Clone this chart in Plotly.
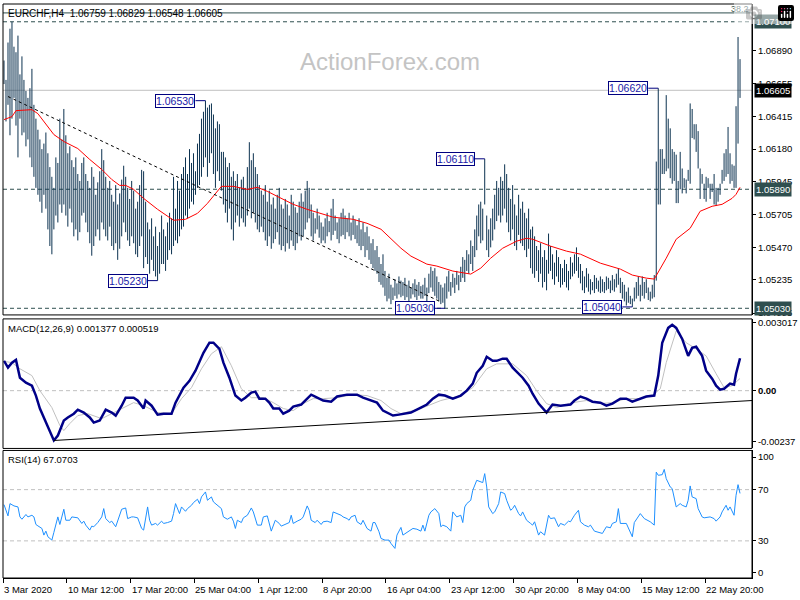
import plotly.graph_objects as go

# ---------------- data ----------------
hi = [
    1.0682, 1.0668, 1.0695, 1.0705, 1.0710, 1.0692, 1.0688, 1.0700, 1.0672, 1.0685,
    1.0668, 1.0660, 1.0655, 1.0662, 1.0676, 1.0650, 1.0640, 1.0632, 1.0625, 1.0618,
    1.0622, 1.0630, 1.0615, 1.0605, 1.0598, 1.0590, 1.0612, 1.0608, 1.0640, 1.0625,
    1.0647, 1.0628, 1.0615, 1.0620, 1.0610, 1.0605, 1.0612, 1.0600, 1.0595, 1.0608,
    1.0612, 1.0600, 1.0595, 1.0590, 1.0605, 1.0598, 1.0585, 1.0594, 1.0602, 1.0618,
    1.0610, 1.0598, 1.0590, 1.0595, 1.0585, 1.0580, 1.0592, 1.0578, 1.0586, 1.0596,
    1.0606, 1.0598, 1.0590, 1.0582, 1.0595, 1.0588, 1.0575, 1.0580, 1.0592, 1.0603,
    1.0602, 1.0580, 1.0565, 1.0560, 1.0568, 1.0555, 1.0562, 1.0548, 1.0558, 1.0570,
    1.0560, 1.0555, 1.0565, 1.0572, 1.0568, 1.0598, 1.0575, 1.0595, 1.0588, 1.0600,
    1.0605, 1.0612, 1.0600, 1.0618, 1.0608, 1.0615, 1.0602, 1.0622, 1.0629, 1.0640,
    1.0645, 1.0653, 1.0648, 1.0650, 1.0651, 1.0643, 1.0633, 1.0638, 1.0636, 1.0616,
    1.0616, 1.0612, 1.0605, 1.0608, 1.0598, 1.0602, 1.0595, 1.0600, 1.0590, 1.0596,
    1.0598, 1.0590, 1.0605, 1.0623, 1.0610, 1.0615, 1.0605, 1.0600, 1.0592, 1.0588,
    1.0585, 1.0592, 1.0580, 1.0588, 1.0578, 1.0583, 1.0575, 1.0585, 1.0590, 1.0578,
    1.0575, 1.0582, 1.0578, 1.0570, 1.0585, 1.0580, 1.0576, 1.0572, 1.0580, 1.0586,
    1.0580, 1.0588, 1.0595, 1.0590, 1.0578, 1.0572, 1.0568, 1.0575, 1.0570, 1.0565,
    1.0562, 1.0568, 1.0572, 1.0566, 1.0575, 1.0582, 1.0570, 1.0565, 1.0568, 1.0572,
    1.0575, 1.0570, 1.0568, 1.0572, 1.0565, 1.0570, 1.0567, 1.0563, 1.0568, 1.0560,
    1.0565, 1.0558, 1.0562, 1.0555, 1.0550, 1.0553, 1.0545, 1.0548, 1.0540, 1.0535,
    1.0542, 1.0530, 1.0525, 1.0528, 1.0520, 1.0518, 1.0524, 1.0521, 1.0526, 1.0523,
    1.0522, 1.0525, 1.0520, 1.0523, 1.0518, 1.0521, 1.0524, 1.0520, 1.0522, 1.0519,
    1.0520, 1.0525, 1.0518, 1.0528, 1.0533, 1.0530, 1.0532, 1.0526, 1.0522, 1.0520,
    1.0518, 1.0521, 1.0526, 1.0530, 1.0522, 1.0528, 1.0525, 1.0530, 1.0527, 1.0533,
    1.0540, 1.0538, 1.0545, 1.0542, 1.0552, 1.0548, 1.0560, 1.0570, 1.0578, 1.0580,
    1.0575, 1.0611, 1.0570, 1.0560, 1.0568, 1.0575, 1.0585, 1.0595, 1.0590, 1.0598,
    1.0595, 1.0607, 1.0600, 1.0590, 1.0582, 1.0592, 1.0578, 1.0570, 1.0585, 1.0575,
    1.0580, 1.0572, 1.0568, 1.0575, 1.0560, 1.0562, 1.0555, 1.0548, 1.0545, 1.0550,
    1.0540, 1.0545, 1.0538, 1.0557, 1.0548, 1.0542, 1.0536, 1.0545, 1.0540, 1.0535,
    1.0532, 1.0538, 1.0535, 1.0530, 1.0540, 1.0536, 1.0542, 1.0547, 1.0540, 1.0535,
    1.0530, 1.0526, 1.0532, 1.0528, 1.0524, 1.0522, 1.0527, 1.0525, 1.0523, 1.0526,
    1.0524, 1.0522, 1.0526, 1.0525, 1.0523, 1.0527, 1.0524, 1.0528, 1.0532, 1.0525,
    1.0522, 1.0520, 1.0515, 1.0518, 1.0512, 1.0510, 1.0518, 1.0522, 1.0526, 1.0520,
    1.0526, 1.0522, 1.0524, 1.0518, 1.0515, 1.0520, 1.0527,
    1.0609, 1.0662, 1.0618, 1.0618, 1.0611, 1.0657, 1.0640, 1.0633, 1.0618, 1.0616,
    1.0614, 1.0595, 1.0616, 1.0604, 1.0597, 1.0596, 1.0603, 1.0651, 1.0647, 1.0636,
    1.0636, 1.0631, 1.0604, 1.0600, 1.0593, 1.0598, 1.0597, 1.0593, 1.0593, 1.0600,
    1.0590, 1.0590, 1.0593, 1.0603, 1.0615, 1.0618, 1.0634, 1.0615, 1.0607, 1.0606,
    1.0649, 1.0699, 1.0683,
]
lo = [
    1.0665, 1.0638, 1.0650, 1.0628, 1.0640, 1.0655, 1.0635, 1.0612, 1.0640, 1.0628,
    1.0630, 1.0620, 1.0625, 1.0612, 1.0605, 1.0598, 1.0590, 1.0585, 1.0580, 1.0572,
    1.0585, 1.0575, 1.0560, 1.0548, 1.0542, 1.0560, 1.0570, 1.0565, 1.0578, 1.0572,
    1.0578, 1.0570, 1.0562, 1.0575, 1.0565, 1.0555, 1.0560, 1.0552, 1.0558, 1.0570,
    1.0572, 1.0565, 1.0558, 1.0550, 1.0541, 1.0548, 1.0555, 1.0560, 1.0552, 1.0565,
    1.0560, 1.0555, 1.0552, 1.0562, 1.0548, 1.0545, 1.0550, 1.0538, 1.0546, 1.0555,
    1.0565, 1.0558, 1.0552, 1.0548, 1.0555, 1.0550, 1.0542, 1.0540, 1.0548, 1.0555,
    1.0532, 1.0540, 1.0535, 1.0528, 1.0538, 1.0530, 1.0526, 1.0523, 1.0528, 1.0535,
    1.0535, 1.0530, 1.0538, 1.0545, 1.0542, 1.0548, 1.0552, 1.0550, 1.0555, 1.0560,
    1.0562, 1.0570, 1.0568, 1.0575, 1.0580, 1.0578, 1.0585, 1.0590, 1.0592, 1.0598,
    1.0605, 1.0612, 1.0598, 1.0608, 1.0615, 1.0600, 1.0590, 1.0602, 1.0595, 1.0588,
    1.0578, 1.0572, 1.0565, 1.0575, 1.0560, 1.0552, 1.0565, 1.0570, 1.0562, 1.0568,
    1.0565, 1.0562, 1.0570, 1.0575, 1.0568, 1.0572, 1.0565, 1.0560, 1.0558, 1.0562,
    1.0558, 1.0552, 1.0548, 1.0555, 1.0546, 1.0550, 1.0553, 1.0558, 1.0549, 1.0545,
    1.0548, 1.0544, 1.0550, 1.0546, 1.0552, 1.0548, 1.0545, 1.0550, 1.0555, 1.0552,
    1.0555, 1.0560, 1.0565, 1.0568, 1.0555, 1.0552, 1.0557, 1.0560, 1.0554, 1.0550,
    1.0552, 1.0550, 1.0555, 1.0558, 1.0552, 1.0556, 1.0559, 1.0553, 1.0550, 1.0555,
    1.0556, 1.0553, 1.0558, 1.0555, 1.0552, 1.0556, 1.0553, 1.0550, 1.0548, 1.0545,
    1.0548, 1.0540, 1.0545, 1.0538, 1.0535, 1.0532, 1.0530, 1.0528, 1.0522, 1.0520,
    1.0518, 1.0512, 1.0508, 1.0510, 1.0506, 1.0509, 1.0512, 1.0510, 1.0513, 1.0511,
    1.0512, 1.0509, 1.0511, 1.0508, 1.0510, 1.0513, 1.0511, 1.0509, 1.0512, 1.0510,
    1.0510, 1.0512, 1.0508, 1.0514, 1.0518, 1.0515, 1.0512, 1.0510, 1.0508, 1.0506,
    1.0507, 1.0503, 1.0510, 1.0515, 1.0512, 1.0518, 1.0514, 1.0520, 1.0516, 1.0522,
    1.0525, 1.0522, 1.0530, 1.0528, 1.0535, 1.0530, 1.0540, 1.0545, 1.0555, 1.0550,
    1.0552, 1.0578, 1.0545, 1.0540, 1.0547, 1.0552, 1.0560, 1.0566, 1.0570, 1.0565,
    1.0570, 1.0575, 1.0565, 1.0558, 1.0552, 1.0560, 1.0548, 1.0545, 1.0556, 1.0550,
    1.0548, 1.0545, 1.0540, 1.0546, 1.0532, 1.0528, 1.0525, 1.0530, 1.0522, 1.0528,
    1.0518, 1.0522, 1.0516, 1.0528, 1.0530, 1.0524, 1.0520, 1.0526, 1.0522, 1.0518,
    1.0520, 1.0522, 1.0518, 1.0516, 1.0524, 1.0526, 1.0528, 1.0530, 1.0525, 1.0521,
    1.0516, 1.0514, 1.0518, 1.0515, 1.0513, 1.0516, 1.0514, 1.0517, 1.0515, 1.0514,
    1.0515, 1.0514, 1.0516, 1.0517, 1.0514, 1.0516, 1.0515, 1.0518, 1.0520, 1.0514,
    1.0510, 1.0508, 1.0505, 1.0507, 1.0506, 1.0504, 1.0508, 1.0510, 1.0512, 1.0508,
    1.0512, 1.0510, 1.0514, 1.0509, 1.0508, 1.0510, 1.0511,
    1.0523, 1.0578, 1.0578, 1.0600, 1.0600, 1.0602, 1.0604, 1.0597, 1.0593, 1.0595,
    1.0579, 1.0579, 1.0589, 1.0586, 1.0590, 1.0586, 1.0595, 1.0593, 1.0626, 1.0625,
    1.0616, 1.0604, 1.0582, 1.0593, 1.0582, 1.0580, 1.0590, 1.0582, 1.0587, 1.0578,
    1.0577, 1.0580, 1.0585, 1.0593, 1.0595, 1.0598, 1.0600, 1.0593, 1.0595, 1.0590,
    1.0590, 1.0622, 1.0655,
]
assert len(hi) == len(lo) == 370, (len(hi), len(lo))

# moving average (bar index, value)
ma_i = [0, 4, 6, 14, 17, 20, 25, 30, 37, 43, 49, 54, 58, 61, 65, 70, 77, 85, 91, 97,
        102, 109, 115, 122, 127, 132, 139, 145, 152, 159, 165, 175, 182, 189, 199, 204, 212, 217, 225, 234,
        239, 244, 250, 257, 262, 265, 274, 282, 289, 299, 309, 315, 322, 326, 332, 337, 344, 349, 355, 360,
        365, 367, 369]
ma_v = [1.06393, 1.06415, 1.06458, 1.06465, 1.06436, 1.06379, 1.06285, 1.06235, 1.06184, 1.06105,
        1.06033, 1.05961, 1.05918, 1.05918, 1.05889, 1.05824, 1.05745, 1.05666, 1.05673, 1.05716,
        1.05788, 1.05911, 1.05911, 1.05889, 1.05904, 1.05875, 1.05824, 1.05781, 1.05745, 1.05716,
        1.05688, 1.05673, 1.05644, 1.05601, 1.05464, 1.05407, 1.05349, 1.05335, 1.05299, 1.05277,
        1.05320, 1.05392, 1.05464, 1.05515, 1.05536, 1.05529, 1.05479, 1.05443, 1.05421, 1.05356,
        1.05313, 1.05270, 1.05248, 1.05241, 1.05392, 1.05529, 1.05608, 1.05731, 1.05767, 1.05781,
        1.05824, 1.05853, 1.05904]

macd_i = [0, 2, 4, 6, 8, 11, 14, 16, 18, 21, 24, 25, 27, 30, 32, 35, 37, 40, 43, 45,
          48, 50, 51, 54, 56, 59, 61, 65, 67, 70, 71, 74, 77, 80, 84, 86, 90, 93, 96, 100,
          103, 105, 108, 110, 113, 116, 119, 121, 124, 126, 128, 131, 133, 135, 138, 140, 143, 145, 149, 151,
          154, 156, 160, 164, 167, 172, 177, 180, 184, 187, 190, 195, 198, 204, 209, 212, 215, 218, 221, 225,
          229, 232, 235, 237, 240, 242, 245, 247, 250, 252, 255, 258, 260, 263, 265, 268, 270, 272, 275, 279,
          284, 286, 289, 292, 295, 299, 302, 305, 309, 312, 315, 319, 322, 326, 328, 330, 333, 335, 337, 340,
          343, 345, 347, 350, 352, 355, 357, 359, 361, 364, 366, 367, 369]
macd_v = [0.00127, 0.00098, 0.00119, 0.00131, 0.00055, 0.00034, 0.00021, -0.00021, -0.00076, -0.00136,
          -0.00191, -0.00212, -0.00191, -0.00127, -0.00114, -0.00098, -0.00081, -0.00093, -0.00114, -0.00136,
          -0.00127, -0.00098, -0.00081, -0.00093, -0.00106, -0.00064, -0.00030, -0.00030, -0.00042, -0.00076,
          -0.00042, -0.00064, -0.00102, -0.00098, -0.00098, -0.00051, 0.00013, 0.00042, 0.00085, 0.00161,
          0.00204, 0.00204, 0.00178, 0.00119, 0.00055, -0.00021, -0.00042, -0.00030, -0.00008, -0.00004,
          -0.00034, -0.00034, -0.00051, -0.00076, -0.00076, -0.00098, -0.00085, -0.00068, -0.00059, -0.00042,
          -0.00017, -0.00025, -0.00042, -0.00047, -0.00025, -0.00017, -0.00017, -0.00030, -0.00042, -0.00051,
          -0.00085, -0.00106, -0.00102, -0.00093, -0.00072, -0.00059, -0.00034, -0.00017, -0.00021, -0.00034,
          -0.00021, 0.0, 0.00030, 0.00076, 0.00106, 0.00144, 0.00127, 0.00127, 0.00136, 0.00136,
          0.00098, 0.00072, 0.00055, 0.00021, -0.00013, -0.00055, -0.00076, -0.00093, -0.00059, -0.00064,
          -0.00059, -0.00042, -0.00025, -0.00034, -0.00047, -0.00051, -0.00064, -0.00055, -0.00034, -0.00034,
          -0.00047, -0.00034, -0.00025, -0.00021, 0.00064, 0.00204, 0.00267, 0.00280, 0.00267, 0.00220,
          0.00148, 0.00182, 0.00187, 0.00148, 0.00085, 0.00051, 0.00021, 0.00004, 0.00008, 0.00030,
          0.00025, 0.00072, 0.001377]

sig_i = [0, 4, 8, 14, 18, 24, 28, 30, 33, 37, 42, 49, 54, 59, 65, 70, 77, 84, 89, 94,
         99, 104, 109, 114, 119, 124, 130, 135, 140, 145, 150, 155, 160, 167, 175, 182, 189, 194, 199, 209,
         219, 229, 235, 242, 247, 255, 262, 267, 272, 277, 285, 292, 299, 305, 312, 319, 325, 329, 332, 337,
         342, 347, 352, 357, 361, 365, 369]
sig_v = [0.00125, 0.00119, 0.00093, 0.00064, 0.0, -0.00072, -0.00148, -0.00170, -0.00140, -0.00106,
         -0.00098, -0.00119, -0.00098, -0.00076, -0.00051, -0.00064, -0.00093, -0.00098, -0.00034, 0.00013,
         0.00093, 0.00157, 0.00187, 0.00106, 0.00008, -0.00030, -0.00030, -0.00051, -0.00076, -0.00085,
         -0.00055, -0.00034, -0.00034, -0.00030, -0.00017, -0.00021, -0.00042, -0.00076, -0.00098, -0.00076,
         -0.00042, -0.00021, 0.00013, 0.00093, 0.00114, 0.00114, 0.00064, 0.0, -0.00055, -0.00072,
         -0.00051, -0.00042, -0.00055, -0.00051, -0.00034, -0.00034, -0.00021, 0.00008, 0.00119, 0.00254,
         0.00204, 0.00178, 0.00148, 0.00072, 0.00013, 0.00021, 0.000519]

rsi_i = [0, 2, 3, 5, 7, 8, 9, 11, 12, 14, 15, 16, 17, 19, 20, 21, 22, 24, 25, 27,
         28, 29, 30, 31, 33, 34, 37, 39, 40, 41, 43, 44, 45, 47, 49, 50, 51, 53, 54, 56,
         58, 59, 61, 62, 64, 65, 67, 69, 70, 71, 72, 73, 74, 76, 77, 79, 80, 82, 84, 85,
         86, 88, 89, 91, 92, 94, 95, 97, 98, 99, 101, 102, 104, 105, 107, 109, 110, 112, 114, 115,
         116, 117, 119, 120, 122, 124, 125, 127, 129, 130, 132, 133, 134, 136, 138, 139, 141, 143, 144, 145,
         147, 149, 150, 152, 153, 154, 156, 157, 159, 160, 162, 164, 165, 167, 169, 170, 172, 173, 174, 176,
         177, 179, 180, 182, 184, 185, 186, 188, 189, 191, 193, 194, 196, 197, 199, 200, 202, 204, 205, 207,
         209, 210, 211, 213, 214, 216, 218, 219, 220, 222, 224, 225, 227, 229, 230, 231, 232, 234, 235, 237,
         239, 240, 241, 242, 243, 245, 246, 248, 249, 251, 252, 254, 255, 256, 258, 259, 260, 262, 264, 265,
         266, 268, 269, 271, 273, 274, 276, 278, 279, 281, 283, 284, 286, 288, 289, 291, 293, 294, 296, 298,
         300, 302, 304, 305, 307, 308, 309, 312, 314, 315, 316, 318, 319, 321, 323, 324, 326, 327, 328, 330,
         331, 332, 334, 335, 337, 339, 340, 342, 343, 344, 345, 347, 348, 350, 351, 353, 354, 356, 357, 359,
         360, 362, 363, 364, 365, 366, 367, 368, 369]
rsi_v = [58.3, 49.5, 59.1, 57.3, 56.5, 48.7, 46.9, 50.6, 48.7, 50.0, 48.7, 42.8, 41.7, 39.7, 34.5, 37.6, 33.2, 30.6, 36.6, 48.7,
         42.8, 48.7, 54.7, 46.1, 46.1, 48.7, 48.0, 43.6, 45.4, 42.3, 38.4, 41.5, 41.0, 44.3, 48.7, 55.2, 47.4, 44.3, 45.4, 41.0,
         51.3, 54.7, 55.7, 47.4, 48.7, 48.7, 48.0, 39.7, 38.4, 48.7, 56.5, 46.1, 42.3, 43.6, 42.3, 45.4, 43.6, 44.3, 45.4, 51.3,
         59.1, 51.3, 56.5, 53.1, 55.2, 57.8, 59.9, 62.5, 59.1, 64.3, 68.2, 61.7, 64.3, 60.4, 57.8, 55.2, 48.7, 46.9, 48.7, 45.4,
         39.7, 46.1, 44.3, 48.0, 50.0, 55.7, 52.6, 42.3, 42.3, 48.7, 49.5, 43.6, 37.6, 46.1, 43.6, 41.5, 42.8, 44.3, 50.0, 43.6,
         45.4, 46.9, 48.7, 57.3, 53.9, 46.1, 44.3, 46.1, 42.8, 44.9, 45.4, 44.3, 52.6, 51.3, 50.0, 48.7, 47.4, 46.1, 48.7, 50.0,
         44.9, 42.8, 46.1, 39.7, 37.6, 44.3, 44.3, 37.1, 31.9, 30.6, 30.6, 28.0, 24.1, 34.5, 40.5, 34.5, 36.6, 38.4, 39.7, 39.1,
         37.6, 42.3, 37.6, 50.0, 52.6, 55.2, 51.3, 41.0, 42.3, 41.0, 37.6, 52.6, 48.7, 50.0, 44.3, 56.5, 59.1, 61.7, 69.5, 77.3,
         76.0, 75.5, 82.5, 72.1, 56.5, 51.3, 52.6, 59.1, 68.2, 66.9, 61.7, 53.9, 55.2, 57.8, 51.3, 49.5, 52.6, 46.1, 43.6, 42.3,
         44.9, 34.5, 37.1, 34.5, 50.0, 47.4, 48.0, 41.0, 43.6, 42.3, 45.4, 44.9, 50.0, 53.9, 44.9, 42.3, 41.0, 42.3, 37.6, 36.6,
         35.8, 41.0, 40.2, 43.6, 44.9, 55.2, 43.6, 43.6, 36.6, 33.2, 44.3, 48.7, 51.3, 47.4, 46.1, 44.9, 42.3, 83.7, 81.2, 81.7,
         85.8, 78.6, 72.1, 70.8, 56.5, 59.1, 57.8, 56.5, 61.7, 72.9, 64.3, 63.0, 55.2, 48.7, 48.0, 48.7, 48.7, 47.4, 45.4, 48.7,
         52.6, 57.8, 53.9, 56.5, 52.6, 50.0, 65.6, 73.9, 67.07]
assert len(rsi_i) == len(rsi_v), (len(rsi_i), len(rsi_v))
assert len(macd_i) == len(macd_v) and len(sig_i) == len(sig_v) and len(ma_i) == len(ma_v)

x_tick_bars = [0, 32, 64, 96, 128, 160, 192, 224, 256, 288, 320, 352]
x_tick_labels = ["3 Mar 2020", "10 Mar 12:00", "17 Mar 20:00", "25 Mar 04:00", "1 Apr 12:00",
                 "8 Apr 20:00", "16 Apr 04:00", "23 Apr 12:00", "30 Apr 20:00", "8 May 04:00",
                 "15 May 12:00", "22 May 20:00"]
price_ticks = [1.07125, 1.06890, 1.06655, 1.06415, 1.06180, 1.05945, 1.05705, 1.05470, 1.05235, 1.04995]

dashed_levels = [1.07100, 1.05890, 1.05030]
last_price = 1.06605
fib_level = 1.07164
marked_i = [101, 77, 241, 221, 315, 328]
marked_v = [1.06530, 1.05230, 1.06110, 1.05030, 1.05040, 1.06620]
ptrend_i = [2, 218]
ptrend_v = [1.06560, 1.05083]
mtrend_i = [25, 375.0]
mtrend_v = [-0.00212, -0.00042]

header = "EURCHF,H4\u00a0\u00a01.06759 1.06829 1.06548 1.06605"
macd_title = "MACD(12,26,9) 0.001377 0.000519"
rsi_title = "RSI(14) 67.0703"

# ---------------- figure ----------------
FONT = "Liberation Sans, Arial, sans-serif"
BAR = "#0c3250"
SLATE = "#2f4f4f"

bx, by = [], []
for i, (h, l) in enumerate(zip(hi, lo)):
    bx += [i, i, None]
    by += [l, h, None]

fig = go.Figure()
fig.add_trace(go.Scatter(x=bx, y=by, mode="lines", line=dict(color=BAR, width=1),
                         hoverinfo="skip", yaxis="y"))
fig.add_trace(go.Scatter(x=ma_i, y=ma_v, mode="lines", line=dict(color="#ff0000", width=1),
                         hoverinfo="skip", yaxis="y"))
fig.add_trace(go.Scatter(x=sig_i, y=sig_v, mode="lines", line=dict(color="#c0c0c0", width=1),
                         hoverinfo="skip", yaxis="y2"))
fig.add_trace(go.Scatter(x=macd_i, y=macd_v, mode="lines", line=dict(color="#000088", width=2.5),
                         hoverinfo="skip", yaxis="y2"))
fig.add_trace(go.Scatter(x=rsi_i, y=rsi_v, mode="lines", line=dict(color="#1e90ff", width=1),
                         hoverinfo="skip", yaxis="y3"))

shapes = []
for yd in ["y domain", "y2 domain", "y3 domain"]:
    shapes.append(dict(type="rect", xref="x domain", yref=yd, x0=0, x1=1, y0=0, y1=1,
                       line=dict(color="black", width=1), layer="above"))
for lv in dashed_levels:
    shapes.append(dict(type="line", xref="x domain", yref="y", x0=0, x1=1, y0=lv, y1=lv,
                       line=dict(color=SLATE, width=1, dash="4px,3px"), layer="below"))
shapes.append(dict(type="line", xref="x domain", yref="y", x0=0, x1=1, y0=last_price, y1=last_price,
                   line=dict(color="#c0c0c0", width=1), layer="below"))
shapes.append(dict(type="line", xref="x domain", yref="y", x0=0, x1=1, y0=fib_level, y1=fib_level,
                   line=dict(color=SLATE, width=1), layer="below"))
shapes.append(dict(type="line", xref="x", yref="y", x0=ptrend_i[0], x1=ptrend_i[1],
                   y0=ptrend_v[0], y1=ptrend_v[1], line=dict(color="black", width=1, dash="3px,3px"),
                   layer="above"))
shapes.append(dict(type="line", xref="x", yref="y2", x0=mtrend_i[0], x1=mtrend_i[1],
                   y0=mtrend_v[0], y1=mtrend_v[1], line=dict(color="black", width=1), layer="above"))
shapes.append(dict(type="line", xref="x domain", yref="y2", x0=0, x1=1, y0=0, y1=0,
                   line=dict(color="#c0c0c0", width=1, dash="4px,3px"), layer="below"))
for lv in [70, 30]:
    shapes.append(dict(type="line", xref="x domain", yref="y3", x0=0, x1=1, y0=lv, y1=lv,
                       line=dict(color="#c0c0c0", width=1, dash="4px,3px"), layer="below"))
for i, v in zip(marked_i, marked_v):
    shapes.append(dict(type="line", xref="x", yref="y", x0=i - 5, x1=i, y0=v, y1=v,
                       line=dict(color="#000080", width=1), layer="above"))

ann = []
for i, v in zip(marked_i, marked_v):
    ann.append(dict(x=i - 5, y=v, xref="x", yref="y", text=f"{v:.5f}", showarrow=False,
                    xanchor="right", yanchor="middle", bgcolor="white", bordercolor="#000080",
                    borderwidth=1, borderpad=0, font=dict(family=FONT, size=10.5, color="#1a1aa8")))
for v, bg in [(1.07100, SLATE), (last_price, "black"), (1.05890, SLATE), (1.05030, SLATE)]:
    ann.append(dict(x=1, y=v, xref="paper", yref="y", text=f"{v:.5f}", showarrow=False,
                    xanchor="left", yanchor="middle", xshift=2, bgcolor=bg, borderpad=1,
                    font=dict(family=FONT, size=9.5, color="white")))
for i, t in zip(x_tick_bars, x_tick_labels):
    ann.append(dict(x=i, y=0, xref="x", yref="paper", text=t, showarrow=False,
                    xanchor="left", yanchor="top", xshift=-2, yshift=-4,
                    font=dict(family=FONT, size=9.5, color="black")))
ann.append(dict(x=0, y=1, xref="paper", yref="paper", text=header, showarrow=False,
                xanchor="left", yanchor="top", xshift=3, yshift=-2,
                font=dict(family=FONT, size=10, color="black")))
ann.append(dict(x=1, y=1, xref="paper", yref="paper", text="38.2", showarrow=False,
                xanchor="right", yanchor="top", xshift=-1, yshift=2,
                font=dict(family=FONT, size=9, color=SLATE)))
ann.append(dict(x=0, y=1, xref="paper", yref="y2 domain", text=macd_title, showarrow=False,
                xanchor="left", yanchor="top", xshift=3, yshift=-2,
                font=dict(family=FONT, size=9.5, color="black")))
ann.append(dict(x=0, y=1, xref="paper", yref="y3 domain", text=rsi_title, showarrow=False,
                xanchor="left", yanchor="top", xshift=3, yshift=-2,
                font=dict(family=FONT, size=9.5, color="black")))
ann.append(dict(x=0.517, y=0.899, xref="paper", yref="paper", text="ActionForex.com", showarrow=False,
                xanchor="center", yanchor="middle",
                font=dict(family=FONT, size=24, color="#c4c4c4")))

axis_common = dict(showgrid=False, zeroline=False, showline=True, linecolor="black", linewidth=1,
                   ticks="outside", ticklen=3, tickcolor="black", side="right", anchor="x",
                   tickfont=dict(family=FONT, size=9.5, color="black"), fixedrange=True)

fig.update_layout(
    width=800, height=600,
    margin=dict(l=3, r=46, t=2, b=22),
    paper_bgcolor="white", plot_bgcolor="white",
    showlegend=False,
    shapes=shapes, annotations=ann,
    xaxis=dict(domain=[0, 1], range=[-0.5, 375.0], anchor="y3", showgrid=False, zeroline=False,
               showline=True, linecolor="black", ticks="outside", ticklen=4, tickcolor="black",
               tickvals=[b - 0.5 for b in x_tick_bars], showticklabels=False, fixedrange=True),
    yaxis=dict(domain=[0.4583, 1.0], range=[1.04982, 1.072284], tickvals=price_ticks,
               ticktext=[f"{v:.5f}" for v in price_ticks], **axis_common),
    yaxis2=dict(domain=[0.2257, 0.4514], range=[-0.002459, 0.003053], tickvals=[0.00288, 0, -0.00216],
                ticktext=["0.003017", "<b>0.00</b>", "-0.00237"], **axis_common),
    yaxis3=dict(domain=[0, 0.2222], range=[1.0, 100.6], tickvals=[95.4, 70, 30, 5.1],
                ticktext=["100", "70", "30", "0"], **axis_common),
)

fig.write_html("out.html",
               post_script="document.body.style.margin='0';document.body.style.overflow='hidden';")
